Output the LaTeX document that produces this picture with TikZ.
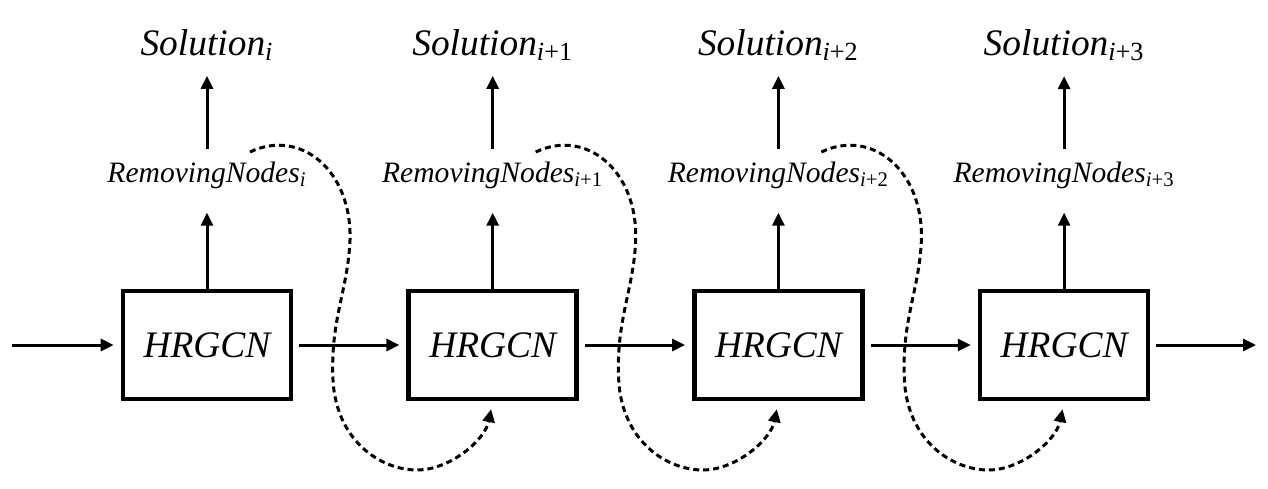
\documentclass[tikz,border=0pt]{standalone}
\usepackage{fontspec}
\setmainfont{Liberation Serif}
\usetikzlibrary{arrows.meta}

\begin{document}
\begin{tikzpicture}[x=0.5pt, y=-0.5pt,
  every node/.style={font=\itshape},
  blk/.style={draw, line width=2.3pt, minimum width=84pt, minimum height=54pt,
    inner sep=0pt, font=\fontsize{18.7}{22}\selectfont\itshape},
  rmtext/.style={inner sep=0pt, anchor=base, font=\fontsize{14.8}{18}\selectfont\itshape},
  soltext/.style={inner sep=0pt, anchor=base, font=\fontsize{18.7}{22}\selectfont\itshape},
  flow/.style={-{Triangle[length=6.5pt,width=6pt]}, line width=1.5pt},
  carry/.style={-{Triangle[length=6.5pt,width=6pt]}, line width=1.5pt,
    dash pattern=on 3pt off 2pt}]
  \useasboundingbox (0,0) rectangle (1268,488);
  % four stages: block, removed nodes, solution
  \foreach \k/\n in {0/,1/+1,2/+2,3/+3}{
    \pgfmathsetmacro\xc{207+285.7*\k}
    \node[blk] (box\k) at (\xc,345) {HRGCN};
    \node[rmtext] (rm\k) at (\xc,182) {RemovingNodes\textsubscript{i\textup{\n}}};
    \node[soltext] (sol\k) at (\xc,55) {Solution\textsubscript{i\textup{\n}}};
    \draw[flow, shorten >=12pt] (box\k.north) -- (box\k.north |- rm\k.south);
    \draw[flow, shorten <=6pt, shorten >=7.5pt] (rm\k.north) -- (rm\k.north |- sol\k.south);
  }
  % chain of blocks
  \coordinate (in) at (12,345);
  \coordinate (out) at (1256,345);
  \draw[flow, shorten >=3.5pt] (in) -- (box0);
  \foreach \k in {0,1,2}{
    \pgfmathtruncatemacro\j{\k+1}
    \draw[flow, shorten <=3pt, shorten >=3.5pt] (box\k) -- (box\j);
  }
  \draw[flow, shorten <=3pt] (box3) -- (out);
  % removed nodes handed on to the next block (dotted)
  \foreach \k in {0,1,2}{
    \pgfmathsetmacro\xc{207+285.7*\k}
    \pgfmathtruncatemacro\j{\k+1}
    \coordinate (from\k) at (\xc+43,152);
    \draw[carry, shorten >=4pt] (from\k) .. controls (\xc+93,128) and (\xc+145,170) .. (\xc+143,240)
      .. controls (\xc+141,290) and (\xc+123,320) .. (\xc+126,380)
      .. controls (\xc+129,440) and (\xc+173,470) .. (\xc+210,470)
      .. controls (\xc+243,470) and (\xc+278,440) .. (box\j.south);
  }
\end{tikzpicture}
\end{document}
